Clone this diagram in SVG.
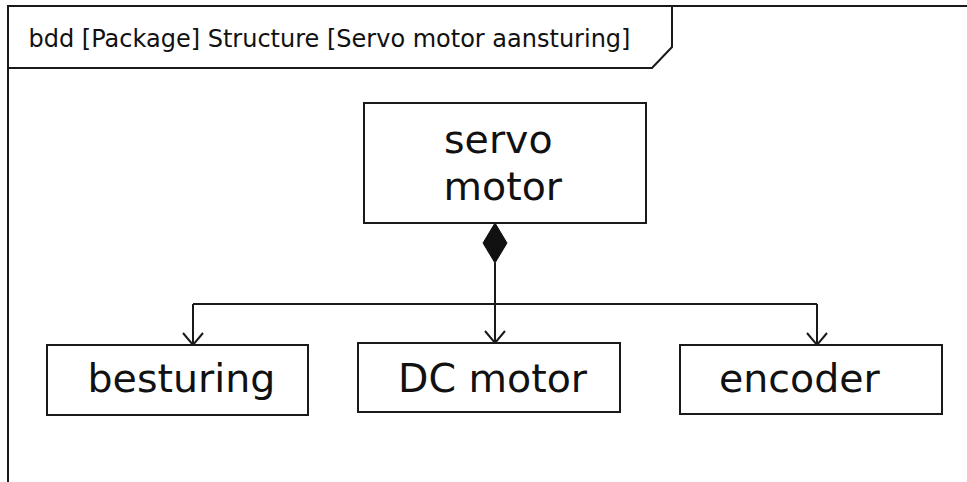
<svg xmlns="http://www.w3.org/2000/svg" width="967" height="482" viewBox="0 0 967 482">
  <style>
    .frame { fill: none; stroke: #1a1a1a; stroke-width: 2; }
    .block { fill: #ffffff; stroke: #1a1a1a; stroke-width: 2; }
    .label { font-family: "DejaVu Sans", "Liberation Sans", sans-serif; font-size: 39.5px; fill: #111111; }
    .title { font-family: "DejaVu Sans", "Liberation Sans", sans-serif; font-size: 24px; fill: #111111; }
    .link { fill: none; stroke: #1a1a1a; stroke-width: 2; }
  </style>
  <defs>
    <!-- open arrowhead, tip at the path end -->
    <marker id="open-arrow" viewBox="0 0 22 14" refX="11" refY="12" markerWidth="22" markerHeight="14" markerUnits="userSpaceOnUse" orient="auto">
      <path d="M1,1 L11,12 L21,1" fill="none" stroke="#1a1a1a" stroke-width="2"/>
    </marker>
  </defs>
  <rect width="967" height="482" fill="#ffffff"/>

  <!-- package frame with name tab -->
  <g id="frame">
    <path class="frame" d="M8,482 L8,6 L967,6"/>
    <path class="frame" d="M8,68 L652,68 L672,47 L672,6"/>
    <text class="title" x="28.5" y="47">bdd [Package] Structure [Servo motor aansturing]</text>
  </g>

  <!-- composition connectors -->
  <g id="connectors">
    <polygon points="495,223 507,243 495,263 483,243" fill="#111111" stroke="#111111" stroke-width="1"/>
    <path class="link" d="M495,263 L495,304"/>
    <path class="link" d="M495,304 L495,343"/>
    <path class="link" d="M193,304 L817,304"/>
    <path class="link" d="M193,304 L193,345"/>
    <path class="link" d="M817,304 L817,345"/>
    <path class="link" d="M183,333 L193,345 L203,333"/>
    <path class="link" d="M485,331 L495,343 L505,331"/>
    <path class="link" d="M807,333 L817,345 L827,333"/>
  </g>

  <g id="servo-motor">
    <rect class="block" x="364" y="103" width="282" height="120"/>
    <text class="label" x="444" y="153">servo</text>
    <text class="label" x="443.5" y="200">motor</text>
  </g>

  <g id="besturing">
    <rect class="block" x="47" y="345" width="261" height="70"/>
    <text class="label" x="87.5" y="392">besturing</text>
  </g>

  <g id="dc-motor">
    <rect class="block" x="358" y="343" width="262" height="69"/>
    <text class="label" x="398" y="392">DC motor</text>
  </g>

  <g id="encoder">
    <rect class="block" x="680" y="345" width="262" height="69"/>
    <text class="label" x="719" y="392">encoder</text>
  </g>
</svg>
